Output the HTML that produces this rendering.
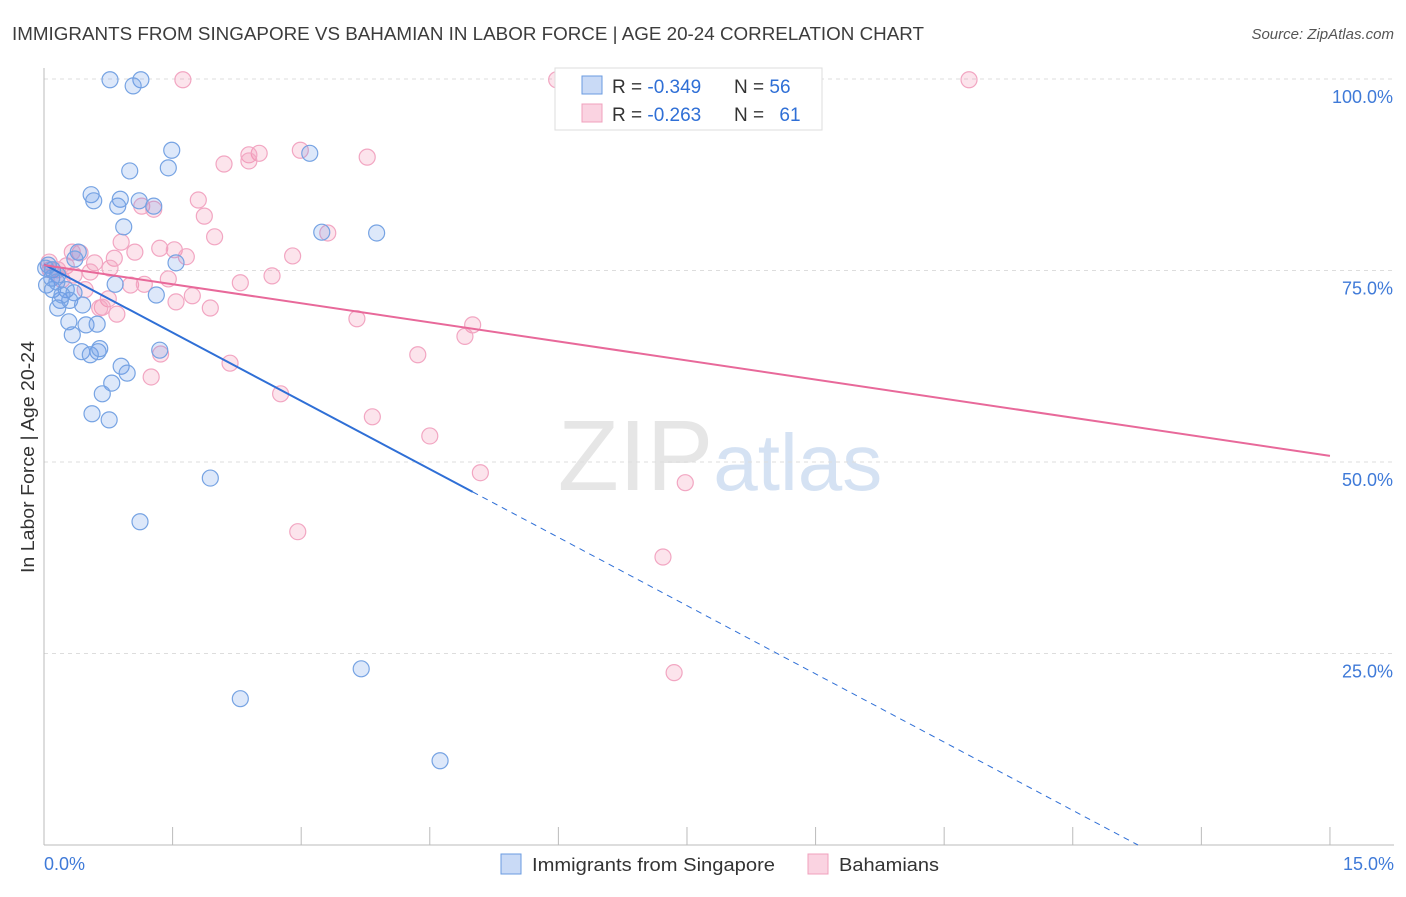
<!DOCTYPE html>
<html><head><meta charset="utf-8">
<style>
body{margin:0;background:#fff;font-family:"Liberation Sans",sans-serif;}
svg text{font-family:"Liberation Sans",sans-serif;}
</style></head>
<body>
<svg id="chart" width="1406" height="892" xmlns="http://www.w3.org/2000/svg">
<text x="12" y="40" font-size="18" fill="#3c3c3c" textLength="912" lengthAdjust="spacingAndGlyphs">IMMIGRANTS FROM SINGAPORE VS BAHAMIAN IN LABOR FORCE | AGE 20-24 CORRELATION CHART</text>
<text x="1394" y="39" font-size="15" fill="#555" text-anchor="end" font-style="italic">Source: ZipAtlas.com</text>
<text x="720" y="490" font-size="100" text-anchor="middle" fill="#e6e6e6" font-family="Liberation Serif">ZIP<tspan fill="#d5e2f3" font-family="Liberation Sans" font-size="80">atlas</tspan></text>
<g id="grid"></g>
<g id="axes"></g>
<g id="marks"></g>
<g id="lines"></g>
<text transform="translate(34,457) rotate(-90)" font-size="18" fill="#333" text-anchor="middle" textLength="232" lengthAdjust="spacingAndGlyphs">In Labor Force | Age 20-24</text>
<g>
<rect x="555" y="68" width="267" height="62" fill="#fff" stroke="#ddd"/>
<rect x="582" y="76" width="20" height="18" fill="rgba(100,150,230,0.35)" stroke="#6a9be0"/>
<rect x="582" y="104" width="20" height="18" fill="rgba(240,130,170,0.35)" stroke="#f0a0bd"/>
<text x="612" y="93" font-size="19" fill="#333">R = <tspan fill="#2f6fd6">-0.349</tspan></text>
<text x="734" y="93" font-size="19" fill="#333">N = <tspan fill="#2f6fd6">56</tspan></text>
<text x="612" y="121" font-size="19" fill="#333">R = <tspan fill="#2f6fd6">-0.263</tspan></text>
<text x="734" y="121" font-size="19" fill="#333">N = <tspan fill="#2f6fd6" dx="10">61</tspan></text>
</g>
<g>
<rect x="501" y="854" width="20" height="20" fill="rgba(100,150,230,0.35)" stroke="#6a9be0"/>
<text x="532" y="871" font-size="18" fill="#333" textLength="243" lengthAdjust="spacingAndGlyphs">Immigrants from Singapore</text>
<rect x="808" y="854" width="20" height="20" fill="rgba(240,130,170,0.35)" stroke="#f0a0bd"/>
<text x="839" y="871" font-size="18" fill="#333" textLength="100" lengthAdjust="spacingAndGlyphs">Bahamians</text>
</g>
</svg>
<script>
const xTicks=[0,1.5,3,4.5,6,7.5,9,10.5,12,13.5,15];
const yTicks=[25,50,75,100];
const yTickLabels=["25.0%","50.0%","75.0%","100.0%"];
const xEndLabels=["0.0%","15.0%"];
const blueX=[0.77,1.13,1.04,1.49,3.10,1.45,1.00,0.55,0.58,0.89,0.86,1.11,1.28,0.93,3.24,3.88,0.40,0.36,1.54,0.05,0.10,0.16,0.03,0.10,0.26,0.35,0.19,0.30,0.83,1.31,0.45,0.16,0.29,0.49,0.62,0.33,0.44,0.63,0.54,0.90,0.97,0.79,0.68,0.56,0.76,1.35,1.94,1.12,3.70,2.29,4.62,0.09,0.21,0.02,0.15,0.65];
const blueY=[99.9,99.9,99.1,90.7,90.3,88.4,88.0,84.9,84.1,84.3,83.4,84.1,83.4,80.7,80.0,79.9,77.4,76.5,76.0,75.7,75.1,74.4,73.1,72.5,72.5,72.1,71.1,71.1,73.2,71.8,70.5,70.1,68.3,67.9,68.0,66.6,64.4,64.4,64.0,62.5,61.6,60.3,58.9,56.3,55.5,64.6,47.9,42.2,23.0,19.1,11.0,74.0,71.8,75.3,73.5,64.8];
const pinkX=[1.62,5.98,10.79,2.99,2.51,2.39,2.39,2.10,3.77,1.80,1.14,1.28,1.87,1.99,0.90,3.31,1.35,1.52,1.66,0.42,1.06,0.82,2.90,2.66,0.59,0.26,0.54,0.16,0.06,2.29,1.45,1.01,1.17,1.73,1.54,0.75,0.68,0.85,1.94,3.65,5.00,4.91,4.36,1.36,2.17,1.25,2.76,3.83,4.50,5.09,7.48,2.96,7.22,7.35,0.07,0.21,0.35,0.65,0.33,0.77,0.48];
const pinkY=[99.9,99.9,99.9,90.7,90.3,90.1,89.3,88.9,89.8,84.2,83.4,83.0,82.1,79.4,78.7,79.9,77.9,77.7,76.8,77.3,77.4,76.6,76.9,74.3,76.0,75.6,74.8,75.1,76.1,73.4,73.9,73.1,73.2,71.7,70.9,71.3,70.2,69.3,70.1,68.7,67.9,66.4,64.0,64.1,62.9,61.1,58.9,55.9,53.4,48.6,47.3,40.9,37.6,22.5,75.1,73.8,74.4,70.1,77.4,75.3,72.5];
const blueTrend=[75.8,46.1]; // y at x=0 and x=5
const blueSolidEnd=5;
const pinkTrend=[75.7,50.8]; // y at x=0 and x=15

const NS="http://www.w3.org/2000/svg";
const X=v=>44+v*85.73, Y=v=>845-v*7.66;
function mk(tag,attrs,parent){const e=document.createElementNS(NS,tag);for(const k in attrs)e.setAttribute(k,attrs[k]);document.getElementById(parent).appendChild(e);return e;}
yTicks.forEach((t,i)=>{
  const l=mk('line',{x1:44,x2:1394,y1:Y(t),y2:Y(t),stroke:'#ddd','stroke-dasharray':'4,4'},'grid');
  
  
  const tx=mk('text',{x:1393,y:Y(t)+24,'font-size':18,fill:'#3f7ad8','text-anchor':'end'},'axes');
  tx.textContent=yTickLabels[i];
  
  
});
const ax=mk('line',{x1:44,x2:44,y1:68,y2:845,stroke:'#bbb'},'axes');


const bx=mk('line',{x1:44,x2:1394,y1:845,y2:845,stroke:'#bbb'},'axes');


xTicks.forEach(t=>{
  const l=mk('line',{x1:X(t),x2:X(t),y1:827,y2:845,stroke:'#bbb'},'axes');
  
  
});
const xl0=mk('text',{x:44,y:870,'font-size':18,fill:'#3f7ad8'},'axes');
xl0.textContent=xEndLabels[0];


const xl1=mk('text',{x:1394,y:870,'font-size':18,fill:'#3f7ad8','text-anchor':'end'},'axes');
xl1.textContent=xEndLabels[1];


pinkX.forEach((v,i)=>{
  const c=mk('circle',{cx:X(v),cy:Y(pinkY[i]),r:8,fill:'rgba(240,130,170,0.22)',stroke:'#f2a6c2','stroke-width':1.2},'marks');
  
  
});
blueX.forEach((v,i)=>{
  const c=mk('circle',{cx:X(v),cy:Y(blueY[i]),r:8,fill:'rgba(100,150,230,0.22)',stroke:'#76a3e3','stroke-width':1.2},'marks');
  
  
});
const bs=(blueTrend[1]-blueTrend[0])/blueSolidEnd;
const bzero=-blueTrend[0]/bs;
const l1=mk('line',{x1:X(0),y1:Y(blueTrend[0]),x2:X(blueSolidEnd),y2:Y(blueTrend[1]),stroke:'#2f6fd6','stroke-width':2},'lines');


const l2=mk('line',{x1:X(blueSolidEnd),y1:Y(blueTrend[1]),x2:X(bzero),y2:Y(0),stroke:'#2f6fd6','stroke-width':1,'stroke-dasharray':'6,5'},'lines');


const l3=mk('line',{x1:X(0),y1:Y(pinkTrend[0]),x2:X(15),y2:Y(pinkTrend[1]),stroke:'#e8699a','stroke-width':2},'lines');


</script>
</body></html>
